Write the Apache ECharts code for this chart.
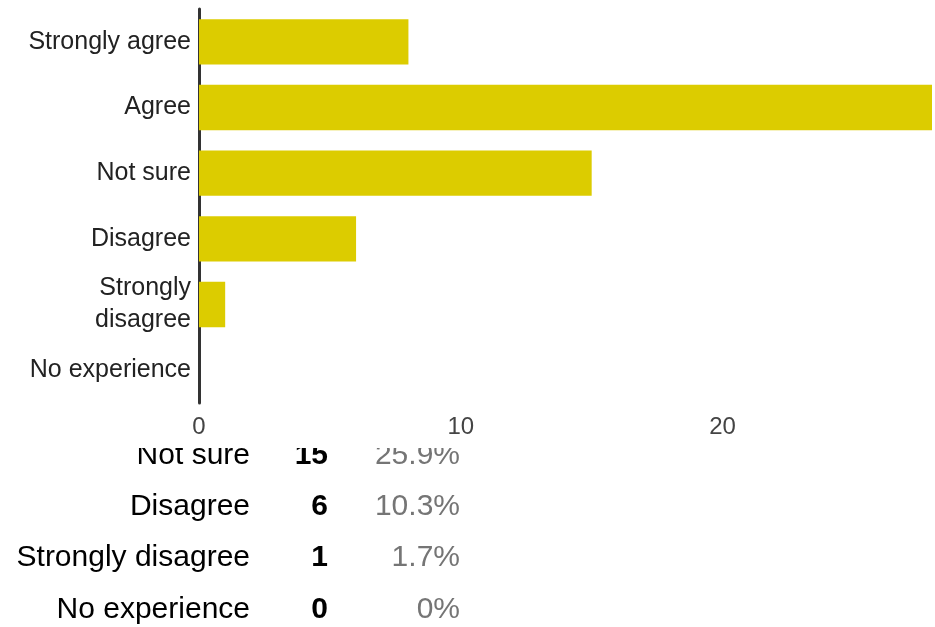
<!DOCTYPE html>
<html>
<head>
<meta charset="utf-8">
<script src="https://cdn.jsdelivr.net/npm/echarts@6/dist/echarts.min.js"></script>
<style>
html,body{margin:0;padding:0;background:#fff;}
#chart{width:935px;height:627px;}
</style>
</head>
<body>
<div id="chart"></div>
<script>
// Data
const categories = ['Strongly agree', 'Agree', 'Not sure', 'Disagree', 'Strongly disagree', 'No experience'];
const counts = [8, 28, 15, 6, 1, 0];
const percents = ['13.8%', '48.3%', '25.9%', '10.3%', '1.7%', '0%'];
const xTicks = [0, 10, 20];
const firstVisibleRow = 2; // table rows above this are hidden behind the chart

const FONT = '"Liberation Sans", Arial, sans-serif';
const chart = echarts.init(document.getElementById('chart'), null, {renderer: 'canvas'});

// Summary table beneath the chart (text built from the arrays)
const tableTexts = [];
const rowY0 = 455.5, rowStep = 51.3;
for (let i = firstVisibleRow; i < categories.length; i++) {
  const y = rowY0 + (i - firstVisibleRow) * rowStep;
  tableTexts.push({type: 'text', z: -5, style: {text: categories[i], x: 250, y: y, align: 'right', verticalAlign: 'middle', font: '30px ' + FONT, fill: '#000'}});
  tableTexts.push({type: 'text', z: -5, style: {text: String(counts[i]), x: 328, y: y, align: 'right', verticalAlign: 'middle', font: 'bold 30px ' + FONT, fill: '#000'}});
  tableTexts.push({type: 'text', z: -5, style: {text: percents[i], x: 460, y: y, align: 'right', verticalAlign: 'middle', font: '30px ' + FONT, fill: '#757575'}});
}
// the chart's white background overlapping the top of the table
tableTexts.push({type: 'rect', z: -4, shape: {x: 0, y: 437, width: 520, height: 11}, style: {fill: '#fff'}});

chart.setOption({
  animation: false,
  backgroundColor: '#fff',
  grid: {left: 199, right: 0, top: 9, height: 394, containLabel: false},
  xAxis: {
    type: 'value', min: 0, max: 28, interval: 10,
    axisLine: {show: false}, axisTick: {show: false}, splitLine: {show: false},
    axisLabel: {
      color: '#444', fontSize: 24, fontFamily: FONT, margin: 12,
      formatter: v => (xTicks.indexOf(v) >= 0 ? String(v) : '')
    }
  },
  yAxis: {
    type: 'category', data: categories, inverse: true,
    axisLine: {show: true, lineStyle: {color: '#333', width: 3}},
    axisTick: {show: false}, splitLine: {show: false},
    axisLabel: {
      color: '#222', fontSize: 25, fontFamily: FONT, margin: 8, lineHeight: 32,
      formatter: v => (v.length > 15 ? v.replace(' ', '\n') : v)
    }
  },
  series: [{
    type: 'bar', data: counts, barCategoryGap: '31%',
    itemStyle: {color: '#DCCC00'}, silent: true
  }],
  graphic: tableTexts
});
</script>
</body>
</html>
